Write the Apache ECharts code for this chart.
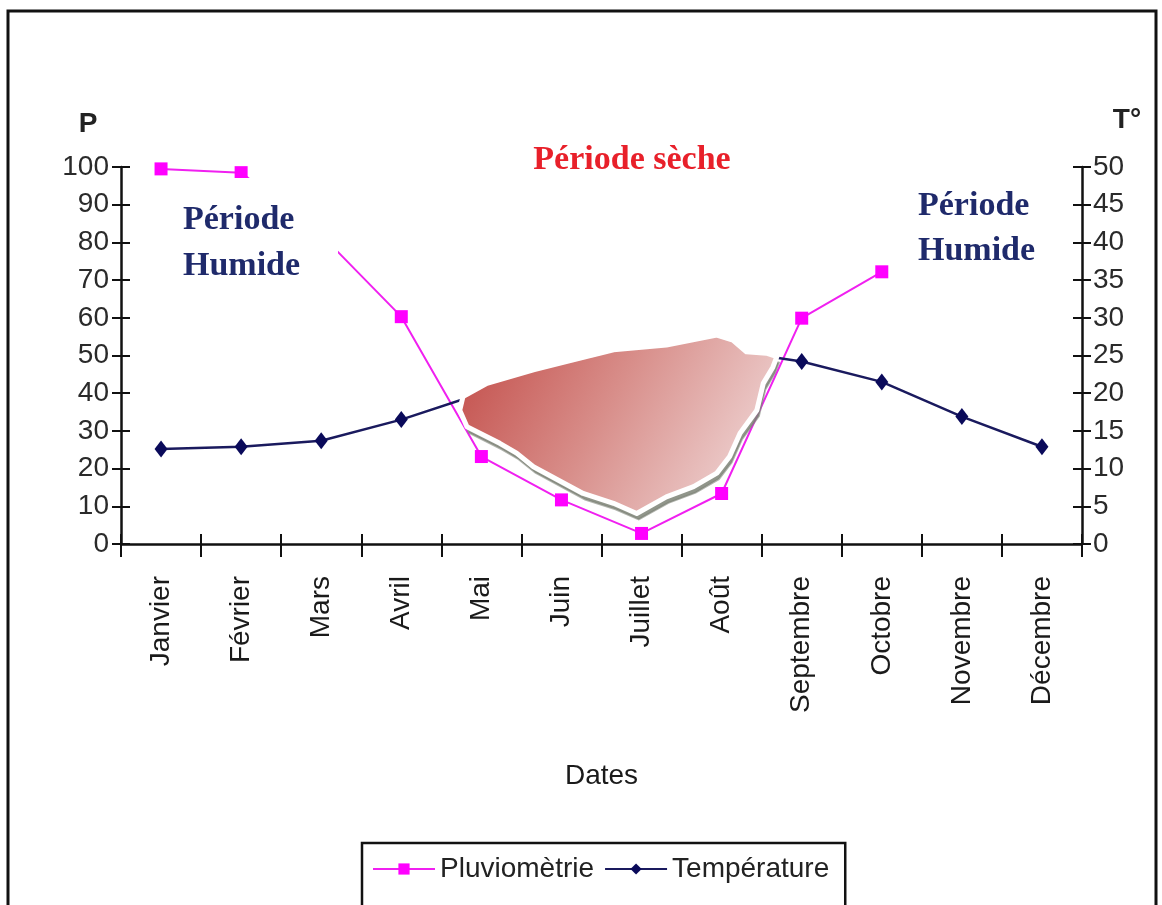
<!DOCTYPE html>
<html>
<head>
<meta charset="utf-8">
<script src="https://cdn.jsdelivr.net/npm/echarts@6/dist/echarts.min.js"></script>
<style>
  html, body { margin: 0; padding: 0; background: #fff; }
  #chart { width: 1162px; height: 905px; }
</style>
</head>
<body>
<div id="chart"></div>
<script>
// ---- data ----
const months = ['Janvier', 'Février', 'Mars', 'Avril', 'Mai', 'Juin', 'Juillet', 'Août', 'Septembre', 'Octobre', 'Novembre', 'Décembre'];
const pluviometrie = [99.5, 98.5, 82, 60.3, 23.2, 11.7, 2.8, 13.4, 59.9, 72.2, null, null];
const temperature = [12.6, 12.9, 13.7, 16.5, 20, 23, 25, 25.8, 24.2, 21.5, 16.9, 12.9];
const pTicks = { min: 0, max: 100, interval: 10 };
const tTicks = { min: 0, max: 50, interval: 5 };
// outline of the "Période sèche" patch, in month index / P units
const dryOutlineMonth = [3.77, 4.07, 4.65, 5.06, 5.65, 6.31, 6.94, 7.14, 7.31, 7.56, 7.69, 7.64, 7.52, 7.44, 7.23, 7.10, 6.94, 6.65, 6.31, 5.94, 5.65, 5.27, 4.65, 4.44, 4.23, 3.82, 3.73];
const dryOutlineP     = [39.1, 42.6, 46.2, 48.4, 51.5, 52.8, 55.4, 54.1, 51.0, 50.6, 49.7, 46.9, 42.6, 35.5, 29.4, 23.2, 18.8, 15.2, 12.5, 8.1, 10.8, 13.4, 20.5, 24.1, 26.7, 31.1, 35.5];

const SANS = '"Liberation Sans Narrow", "Arial Narrow", "Liberation Sans", Arial, sans-serif';
const SANSW = '"Liberation Sans", Arial, sans-serif';
const SERIF = '"Liberation Serif", "Times New Roman", serif';
const AX = '#111';

const chart = echarts.init(document.getElementById('chart'));

const option = {
  backgroundColor: '#fff',
  animation: false,
  grid: { left: 121, top: 167, width: 961, height: 377, containLabel: false },
  legend: {
    data: ['Pluviomètrie', 'Température'],
    left: 362, top: 843,
    orient: 'horizontal',
    padding: [12, 16, 40, 10],
    itemGap: 10,
    itemWidth: 62, itemHeight: 14,
    borderColor: '#111', borderWidth: 2.5,
    textStyle: { fontFamily: SANSW, fontSize: 28, color: '#222' }
  },
  xAxis: [
    {
      type: 'category', data: months, position: 'bottom',
      boundaryGap: true,
      axisLine: { show: true, onZero: false, lineStyle: { color: AX, width: 2.5 } },
      axisTick: { show: true, inside: false, length: 13, interval: 0, lineStyle: { color: AX, width: 2 } },
      axisLabel: { interval: 0, rotate: 90, margin: 32, fontFamily: SANSW, fontSize: 28, color: '#1a1a1a' },
      splitLine: { show: false },
      name: 'Dates', nameLocation: 'middle', nameGap: 218,
      nameTextStyle: { fontFamily: SANSW, fontSize: 28, color: '#1a1a1a' }
    },
    {
      type: 'category', data: months, position: 'bottom',
      boundaryGap: true,
      axisLine: { show: false, onZero: false },
      axisTick: { show: true, inside: true, length: 10, interval: 0, lineStyle: { color: AX, width: 2 } },
      axisLabel: { show: false },
      splitLine: { show: false }
    },
    {
      type: 'value', show: false, min: -0.5, max: 11.5
    }
  ],
  yAxis: [
    {
      type: 'value', position: 'left', min: pTicks.min, max: pTicks.max, interval: pTicks.interval,
      axisLine: { show: true, onZero: false, lineStyle: { color: AX, width: 2.5 } },
      axisTick: { show: true, inside: false, length: 9, lineStyle: { color: AX, width: 2 } },
      axisLabel: { margin: 12, fontFamily: SANS, fontSize: 28, color: '#2a2a2a' },
      splitLine: { show: false }
    },
    {
      type: 'value', position: 'left', min: pTicks.min, max: pTicks.max, interval: pTicks.interval,
      axisLine: { show: false, onZero: false },
      axisTick: { show: true, inside: true, length: 9, lineStyle: { color: AX, width: 2 } },
      axisLabel: { show: false },
      splitLine: { show: false }
    },
    {
      type: 'value', position: 'right', min: tTicks.min, max: tTicks.max, interval: tTicks.interval,
      axisLine: { show: true, onZero: false, lineStyle: { color: AX, width: 2.5 } },
      axisTick: { show: true, inside: false, length: 9, lineStyle: { color: AX, width: 2 } },
      axisLabel: { margin: 11, fontFamily: SANS, fontSize: 28, color: '#2a2a2a' },
      splitLine: { show: false }
    },
    {
      type: 'value', position: 'right', min: tTicks.min, max: tTicks.max, interval: tTicks.interval,
      axisLine: { show: false, onZero: false },
      axisTick: { show: true, inside: true, length: 9, lineStyle: { color: AX, width: 2 } },
      axisLabel: { show: false },
      splitLine: { show: false }
    }
  ],
  series: [
    {
      name: 'Pluviomètrie', type: 'line', xAxisIndex: 0, yAxisIndex: 0,
      data: pluviometrie, connectNulls: false,
      symbol: 'rect', symbolSize: 13,
      itemStyle: { color: '#ff00ff' },
      lineStyle: { color: '#f020f0', width: 2 },
      z: 2
    },
    {
      name: 'Température', type: 'line', xAxisIndex: 0, yAxisIndex: 2,
      data: temperature,
      symbol: 'diamond', symbolSize: [13, 17],
      itemStyle: { color: '#0a0a5a' },
      lineStyle: { color: '#1a1a5e', width: 2.5 },
      z: 2
    },
    {
      name: 'Période sèche', type: 'custom', xAxisIndex: 2, yAxisIndex: 0,
      data: [0],
      silent: true,
      z: 5,
      renderItem: function (params, api) {
        const pts = dryOutlineMonth.map(function (m, i) { return api.coord([m, dryOutlineP[i]]); });
        const shadowPts = pts.map(function (p) { return [p[0] + 2, p[1] + 6]; });
        return {
          type: 'group',
          children: [
            {
              type: 'polygon',
              shape: { points: shadowPts },
              style: { fill: 'rgba(125,130,118,0.85)', stroke: 'rgba(125,130,118,0.6)', lineWidth: 2 }
            },
            {
              type: 'polygon',
              shape: { points: pts },
              style: {
                fill: new echarts.graphic.LinearGradient(0, 0, 1, 1, [
                  { offset: 0, color: '#c24a46' },
                  { offset: 0.45, color: '#d88e8a' },
                  { offset: 1, color: '#f4e4e4' }
                ]),
                stroke: '#ffffff',
                lineWidth: 5,
                lineJoin: 'round'
              }
            }
          ]
        };
      }
    }
  ],
  graphic: [
    { type: 'rect', z: 0, silent: true,
      shape: { x: 8, y: 11, width: 1148, height: 920 },
      style: { fill: 'none', stroke: '#111', lineWidth: 3 } },
    { type: 'rect', z: 50, silent: true,
      shape: { x: 176, y: 178, width: 162, height: 104 },
      style: { fill: '#fff', stroke: 'none' } },
    { type: 'text', z: 60, x: 88, y: 124,
      style: { text: 'P', fill: '#222', font: 'bold 28px ' + SANSW, textAlign: 'center', textVerticalAlign: 'middle' } },
    { type: 'text', z: 60, x: 1127, y: 120,
      style: { text: 'T°', fill: '#222', font: 'bold 28px ' + SANSW, textAlign: 'center', textVerticalAlign: 'middle' } },
    { type: 'text', z: 60, x: 632, y: 160,
      style: { text: 'Période sèche', fill: '#e8202a', font: 'bold 34px ' + SERIF, textAlign: 'center', textVerticalAlign: 'middle' } },
    { type: 'text', z: 60, x: 183, y: 197,
      style: { text: 'Période\nHumide', fill: '#1f2a6b', font: 'bold 34px ' + SERIF, lineHeight: 46, textAlign: 'left', textVerticalAlign: 'top' } },
    { type: 'text', z: 60, x: 918, y: 184,
      style: { text: 'Période\nHumide', fill: '#1f2a6b', font: 'bold 34px ' + SERIF, lineHeight: 45, textAlign: 'left', textVerticalAlign: 'top' } }
  ]
};

chart.setOption(option);
</script>
</body>
</html>
